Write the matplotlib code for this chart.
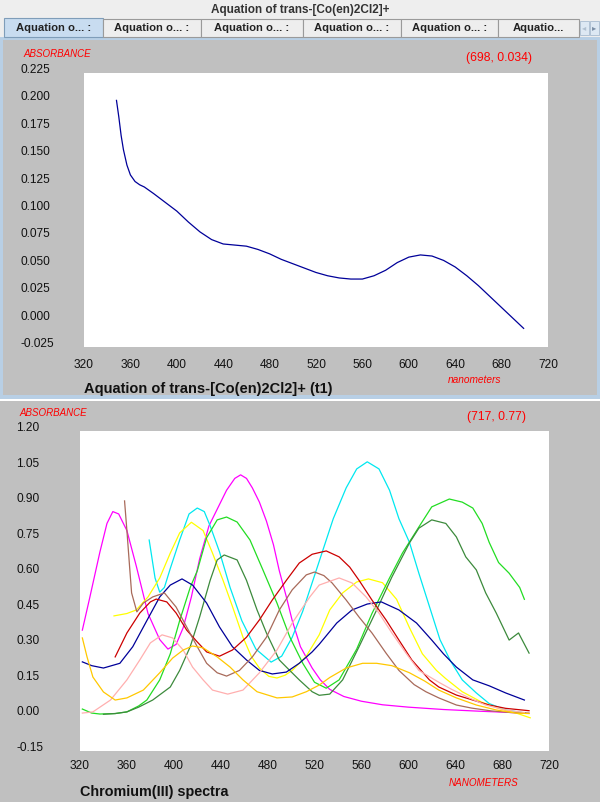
import matplotlib
matplotlib.use("Agg")
import matplotlib.pyplot as plt
from matplotlib.patches import Rectangle

plt.rcParams['font.family'] = ['Liberation Sans', 'DejaVu Sans']

W, H = 600, 802

# top chart: aquation of trans-[Co(en)2Cl2]+, first spectrum
aq_nm = [348, 350, 352, 354, 357, 360, 364, 368, 372, 380, 390, 400, 410, 420,
         430, 440, 450, 460, 470, 480, 490, 500, 510, 520, 530, 540, 550, 560,
         570, 580, 590, 600, 610, 620, 630, 640, 650, 660, 670, 680, 690, 699]
aq_abs = [0.200, 0.185, 0.168, 0.155, 0.141, 0.132, 0.126, 0.123, 0.121, 0.115,
          0.107, 0.099, 0.089, 0.080, 0.073, 0.069, 0.068, 0.067, 0.064, 0.060,
          0.055, 0.051, 0.047, 0.043, 0.040, 0.038, 0.037, 0.037, 0.040, 0.045,
          0.052, 0.057, 0.059, 0.058, 0.054, 0.048, 0.040, 0.031, 0.021, 0.011,
          0.001, -0.008]

# bottom chart: chromium(III) spectra
magenta_nm = [322, 328, 337, 343, 348, 353, 360, 368, 378, 388, 395, 402, 408, 415,
              422, 430, 437, 445, 452, 457, 462, 467, 473, 479, 485, 490, 496, 501,
              508, 518, 525, 533, 545, 560, 578, 600, 630, 660, 700]
magenta_abs = [0.36, 0.49, 0.69, 0.81, 0.86, 0.85, 0.78, 0.63, 0.43, 0.32, 0.28, 0.30,
               0.37, 0.50, 0.66, 0.80, 0.87, 0.95, 1.00, 1.015, 1.00, 0.96, 0.90, 0.82,
               0.72, 0.61, 0.50, 0.40, 0.29, 0.20, 0.15, 0.11, 0.08, 0.06, 0.045,
               0.035, 0.025, 0.018, 0.01]

cyan_nm = [379, 384, 388, 392, 397, 405, 413, 420, 426, 431, 439, 448, 458, 470, 483,
           492, 501, 510, 518, 524, 530, 536, 547, 556, 565, 575, 584, 592, 601, 609,
           618, 627, 636, 646, 658, 669, 683, 700]
cyan_abs = [0.74, 0.58, 0.52, 0.54, 0.62, 0.74, 0.85, 0.875, 0.86, 0.80, 0.69, 0.54,
            0.40, 0.28, 0.225, 0.25, 0.33, 0.44, 0.56, 0.65, 0.74, 0.83, 0.96, 1.04,
            1.07, 1.04, 0.95, 0.83, 0.73, 0.60, 0.46, 0.32, 0.23, 0.15, 0.095, 0.05,
            0.023, 0.01]

yellow_nm = [349, 360, 368, 378, 388, 397, 405, 415, 425, 433, 442, 450, 459, 466, 473,
             481, 488, 495, 501, 513, 524, 533, 544, 556, 566, 578, 590, 601, 612, 624,
             632, 646, 663, 677, 692, 704]
yellow_abs = [0.42, 0.43, 0.445, 0.50, 0.58, 0.685, 0.77, 0.815, 0.78, 0.685, 0.57,
              0.46, 0.33, 0.25, 0.20, 0.165, 0.158, 0.17, 0.19, 0.25, 0.34, 0.445,
              0.517, 0.563, 0.576, 0.56, 0.49, 0.37, 0.26, 0.19, 0.155, 0.10, 0.055,
              0.03, 0.01, -0.01]

green_nm = [322, 330, 337, 350, 360, 370, 377, 388, 397, 405, 414, 420, 428, 437, 445,
            454, 465, 476, 488, 499, 510, 520, 530, 541, 556, 569, 584, 595, 609, 620,
            635, 646, 655, 663, 669, 677, 686, 695, 699]
green_abs = [0.027, 0.01, 0.006, 0.008, 0.015, 0.04, 0.065, 0.15, 0.26, 0.40, 0.54,
             0.61, 0.75, 0.825, 0.837, 0.816, 0.74, 0.614, 0.474, 0.33, 0.22, 0.14,
             0.115, 0.15, 0.28, 0.43, 0.58, 0.685, 0.795, 0.88, 0.913, 0.90, 0.875,
             0.81, 0.73, 0.645, 0.60, 0.54, 0.49]

dkgreen_nm = [340, 350, 360, 370, 382, 397, 405, 414, 422, 431, 437, 443, 454, 462,
              471, 479, 490, 496, 507, 518, 524, 533, 544, 558, 573, 586, 601, 609,
              620, 632, 641, 649, 658, 666, 675, 686, 694, 703]
dkgreen_abs = [0.005, 0.008, 0.015, 0.035, 0.065, 0.12, 0.19, 0.29, 0.415, 0.57,
               0.656, 0.677, 0.656, 0.57, 0.445, 0.348, 0.234, 0.204, 0.15, 0.10,
               0.085, 0.09, 0.15, 0.29, 0.445, 0.584, 0.728, 0.79, 0.825, 0.81,
               0.753, 0.669, 0.614, 0.517, 0.432, 0.318, 0.348, 0.263]

navy_nm = [322, 330, 340, 354, 365, 377, 388, 397, 407, 416, 428, 439, 450, 462, 473,
           484, 496, 507, 518, 524, 539, 552, 565, 577, 592, 607, 620, 630, 641, 655,
           669, 683, 699]
navy_abs = [0.226, 0.21, 0.20, 0.22, 0.29, 0.40, 0.50, 0.55, 0.576, 0.55, 0.474, 0.373,
            0.29, 0.234, 0.19, 0.175, 0.183, 0.22, 0.268, 0.30, 0.39, 0.445, 0.47,
            0.479, 0.445, 0.39, 0.318, 0.26, 0.204, 0.15, 0.125, 0.095, 0.065]

red_nm = [350, 360, 371, 380, 385, 394, 402, 411, 420, 428, 439, 450, 462, 473, 484,
          496, 507, 518, 530, 541, 550, 558, 569, 581, 592, 603, 618, 626, 641, 655,
          669, 683, 703]
red_abs = [0.247, 0.348, 0.432, 0.479, 0.491, 0.479, 0.432, 0.36, 0.31, 0.268, 0.25,
           0.276, 0.33, 0.403, 0.487, 0.57, 0.643, 0.68, 0.694, 0.669, 0.626, 0.57,
           0.487, 0.403, 0.318, 0.234, 0.15, 0.12, 0.086, 0.065, 0.044, 0.03, 0.02]

brown_nm = [358, 360, 362.5, 364, 368.5, 374, 382, 392, 402, 411, 420, 428, 437, 445,
            456, 467, 479, 490, 501, 513, 520, 528, 535, 547, 558, 569, 581, 592, 605,
            615, 626, 641, 654, 671, 688, 703]
brown_abs = [0.905, 0.78, 0.614, 0.517, 0.437, 0.474, 0.50, 0.517, 0.457, 0.373, 0.29,
             0.22, 0.18, 0.166, 0.19, 0.247, 0.33, 0.445, 0.53, 0.593, 0.605, 0.59,
             0.559, 0.487, 0.415, 0.348, 0.263, 0.19, 0.13, 0.10, 0.074, 0.044, 0.031,
             0.019, 0.012, 0.01]

pink_nm = [322, 331, 346, 360, 371, 380, 390, 399, 408, 416, 425, 433, 446, 459, 473,
           488, 501, 516, 524, 541, 552, 564, 575, 586, 598, 609, 626, 637, 652, 666,
           683, 699]
pink_abs = [0.01, 0.015, 0.065, 0.15, 0.234, 0.306, 0.34, 0.327, 0.276, 0.204, 0.15,
            0.107, 0.09, 0.107, 0.18, 0.276, 0.39, 0.50, 0.55, 0.58, 0.559, 0.50, 0.432,
            0.348, 0.263, 0.19, 0.14, 0.11, 0.074, 0.044, 0.023, 0.012]

orange_nm = [322, 326, 331, 340, 350, 360, 374, 388, 399, 408, 416, 425, 437, 448, 459,
             471, 488, 501, 513, 524, 533, 547, 561, 573, 586, 601, 614, 626, 641, 658,
             675, 692, 703]
orange_abs = [0.327, 0.247, 0.162, 0.099, 0.065, 0.074, 0.107, 0.18, 0.242, 0.276,
              0.293, 0.285, 0.247, 0.204, 0.15, 0.10, 0.074, 0.078, 0.10, 0.128, 0.16,
              0.20, 0.22, 0.22, 0.21, 0.18, 0.145, 0.107, 0.074, 0.044, 0.023, 0.01,
              0.008]

aq_yticks = [-0.025, 0.0, 0.025, 0.05, 0.075, 0.1, 0.125, 0.15, 0.175, 0.2, 0.225]
cr_yticks = [-0.15, 0.0, 0.15, 0.30, 0.45, 0.60, 0.75, 0.90, 1.05, 1.20]
nm_ticks = [320, 360, 400, 440, 480, 520, 560, 600, 640, 680, 720]

tab_edges = [4, 103, 201, 303, 401, 498, 579]
tab_labels = ['Aquation o... :'] * 5 + ['Aquatio...']


def px_axes(fig, left, top, right, bottom):
    return fig.add_axes([left / W, 1 - bottom / H, (right - left) / W, (bottom - top) / H])


def style_axes(ax, yticks, fmt, xpad, ypad):
    ax.set_facecolor('white')
    for s in ax.spines.values():
        s.set_visible(False)
    ax.set_xlim(320, 720)
    ax.set_xticks(nm_ticks)
    ax.set_xticklabels([str(t) for t in nm_ticks])
    ax.set_yticks(yticks)
    ax.set_yticklabels([fmt % t for t in yticks])
    ax.tick_params(axis='x', length=0, pad=xpad, labelsize=8.6, labelcolor='#111111')
    ax.tick_params(axis='y', length=0, pad=ypad, labelsize=8.6, labelcolor='#111111')
    for lab in ax.get_yticklabels():
        lab.set_horizontalalignment('left')
        lab.set_verticalalignment('baseline')


fig = plt.figure(figsize=(W / 100, H / 100), dpi=100, facecolor='#eeeeee')

# window chrome drawn in pixel coordinates
bg = fig.add_axes([0, 0, 1, 1])
bg.set_xlim(0, W)
bg.set_ylim(H, 0)
bg.axis('off')

bg.text(300, 10, 'Aquation of trans-[Co(en)2Cl2]+', ha='center', va='center',
        fontsize=8.5, fontweight='bold', color='#333333')

bg.add_patch(Rectangle((0, 37), W, 362, fc='#b8cfe5', ec='none'))
bg.add_patch(Rectangle((3, 40), W - 6, 355, fc='#c0c0c0', ec='none'))
bg.add_patch(Rectangle((0, 399), W, 2, fc='white', ec='none'))
bg.add_patch(Rectangle((0, 401), W, H - 401, fc='#c0c0c0', ec='none'))

for i in range(len(tab_edges) - 1):
    x0, x1 = tab_edges[i], tab_edges[i + 1]
    sel = i == 0
    bg.add_patch(Rectangle((x0, 18 if sel else 19), x1 - x0, 19 if sel else 18,
                           fc='#c8dcf0' if sel else '#eeeeee',
                           ec='#7f9db9' if sel else '#9a9a9a', lw=0.8))
    bg.text((x0 + x1) / 2, 28, tab_labels[i], ha='center', va='center',
            fontsize=8.1, fontweight='bold', color='#222222')
bg.add_patch(Rectangle((580, 21), 9, 14, fc='#dde8f3', ec='#a9bcd0', lw=0.6))
bg.add_patch(Rectangle((590, 21), 9, 14, fc='#dde8f3', ec='#a9bcd0', lw=0.6))
bg.text(584.5, 28, '\u25c2', ha='center', va='center', fontsize=6, color='#b0c0d0',
        family='DejaVu Sans')
bg.text(594.5, 28, '\u25b8', ha='center', va='center', fontsize=6, color='#7a8ea6',
        family='DejaVu Sans')

# top panel texts
bg.text(23, 54, 'ABSORBANCE', ha='left', va='center', fontsize=7, style='italic', color='red')
bg.text(466, 58, '(698, 0.034)', ha='left', va='center', fontsize=8.7, color='red')
bg.text(475, 380, 'nanometers', ha='center', va='center', fontsize=7.3, style='italic', color='red')
bg.text(84, 389, 'Aquation of trans-[Co(en)2Cl2]+ (t1)', ha='left', va='center',
        fontsize=10.5, fontweight='bold', color='#111111')

# bottom panel texts
bg.text(19, 413, 'ABSORBANCE', ha='left', va='center', fontsize=7, style='italic', color='red')
bg.text(467, 417, '(717, 0.77)', ha='left', va='center', fontsize=8.7, color='red')
bg.text(484, 783, 'NANOMETERS', ha='center', va='center', fontsize=7.1, style='italic', color='red')
bg.text(80, 792, 'Chromium(III) spectra', ha='left', va='center',
        fontsize=10.4, fontweight='bold', color='#111111')

# top chart
ax1 = px_axes(fig, 84, 73, 548, 347)
style_axes(ax1, aq_yticks, '%.3f', 8.6, 45.4)
ax1.set_ylim(-0.025, 0.225)
ax1.plot(aq_nm, aq_abs, color='#000099', lw=0.9)

# bottom chart
ax2 = px_axes(fig, 80, 431, 549, 751)
style_axes(ax2, cr_yticks, '%.2f', 6.5, 45.7)
ax2.set_ylim(-0.15, 1.20)
series = [
    (magenta_nm, magenta_abs, '#ff00ff'),
    (cyan_nm, cyan_abs, '#00e8f0'),
    (yellow_nm, yellow_abs, '#ffff00'),
    (green_nm, green_abs, '#22dd22'),
    (dkgreen_nm, dkgreen_abs, '#3c8a3c'),
    (navy_nm, navy_abs, '#000099'),
    (red_nm, red_abs, '#cc0000'),
    (brown_nm, brown_abs, '#a86a5a'),
    (pink_nm, pink_abs, '#ffafaf'),
    (orange_nm, orange_abs, '#ffc800'),
]
for nm, ab, c in series:
    ax2.plot(nm, ab, color=c, lw=0.9)

fig.savefig('out.png', dpi=100, facecolor=fig.get_facecolor())
